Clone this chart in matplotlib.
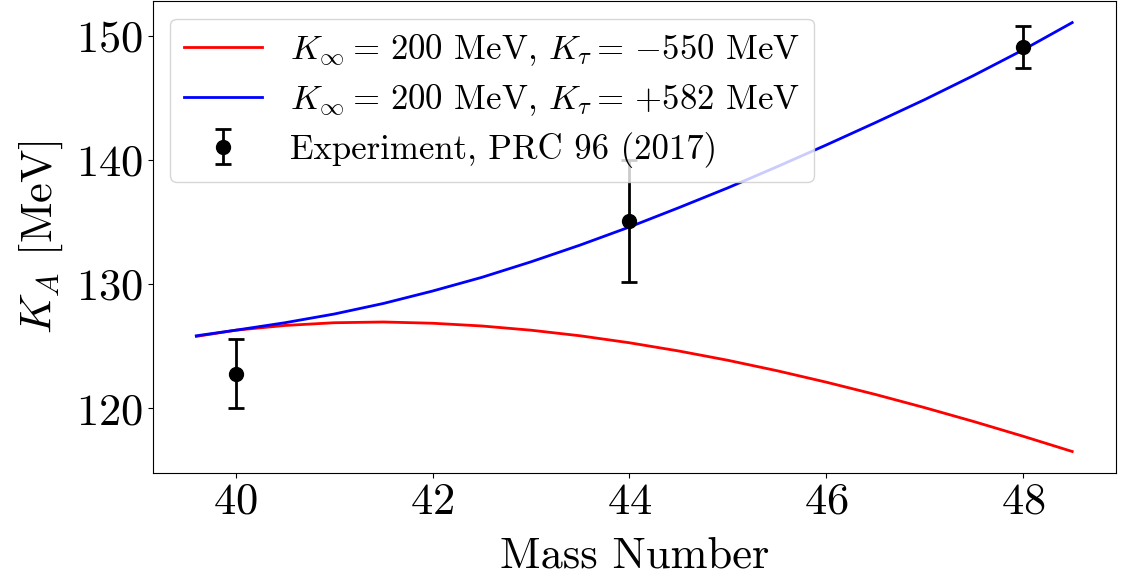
import numpy as np
import matplotlib.pyplot as plt

plt.rcParams['font.family'] = 'serif'
plt.rcParams['font.serif'] = ['cmr10']
plt.rcParams['mathtext.fontset'] = 'cm'
plt.rcParams['axes.formatter.use_mathtext'] = True

# model curves
mass = [39.6, 40.0, 40.5, 41.0, 41.5, 42.0, 42.5, 43.0, 43.5, 44.0,
        44.5, 45.0, 45.5, 46.0, 46.5, 47.0, 47.5, 48.0, 48.5]
k_soft = [125.8, 126.3, 126.68, 126.9, 126.96, 126.86, 126.64, 126.3, 125.85, 125.29,
          124.63, 123.88, 123.04, 122.12, 121.13, 120.07, 118.95, 117.77, 116.54]
k_stiff = [125.85, 126.3, 126.9, 127.6, 128.45, 129.45, 130.55, 131.8, 133.15, 134.6,
           136.15, 137.75, 139.45, 141.2, 143.0, 144.85, 146.8, 148.85, 151.05]

# experiment
exp_mass = [40, 44, 48]
exp_k = [122.8, 135.1, 149.1]
exp_err = [2.8, 4.9, 1.7]

fig = plt.figure(figsize=(11.3, 5.81), dpi=100)
ax = fig.add_axes([0.135, 0.186, 0.8526, 0.812])

ax.plot(mass, k_soft, color='red', lw=2,
        label=r'$K_\infty =\, 200$ MeV, $K_\tau =\, {-}550$ MeV')
ax.plot(mass, k_stiff, color='blue', lw=2,
        label=r'$K_\infty =\, 200$ MeV, $K_\tau =\, {+}582$ MeV')
ax.errorbar(exp_mass, exp_k, yerr=exp_err, fmt='o', color='black',
            ms=10, elinewidth=2, capsize=6, capthick=2,
            label='Experiment, PRC 96 (2017)')

ax.set_xticks([40, 42, 44, 46, 48])
ax.set_yticks([120, 130, 140, 150])
ax.tick_params(labelsize=32)
ax.set_xlabel('Mass Number', fontsize=32, labelpad=10)
ax.set_ylabel(r'$K_A$ [MeV]', fontsize=32, labelpad=8)
ax.legend(loc='upper left', fontsize=25, handlelength=2.25,
          handletextpad=0.8, labelspacing=0.4)

plt.savefig('out.png', dpi=100)
